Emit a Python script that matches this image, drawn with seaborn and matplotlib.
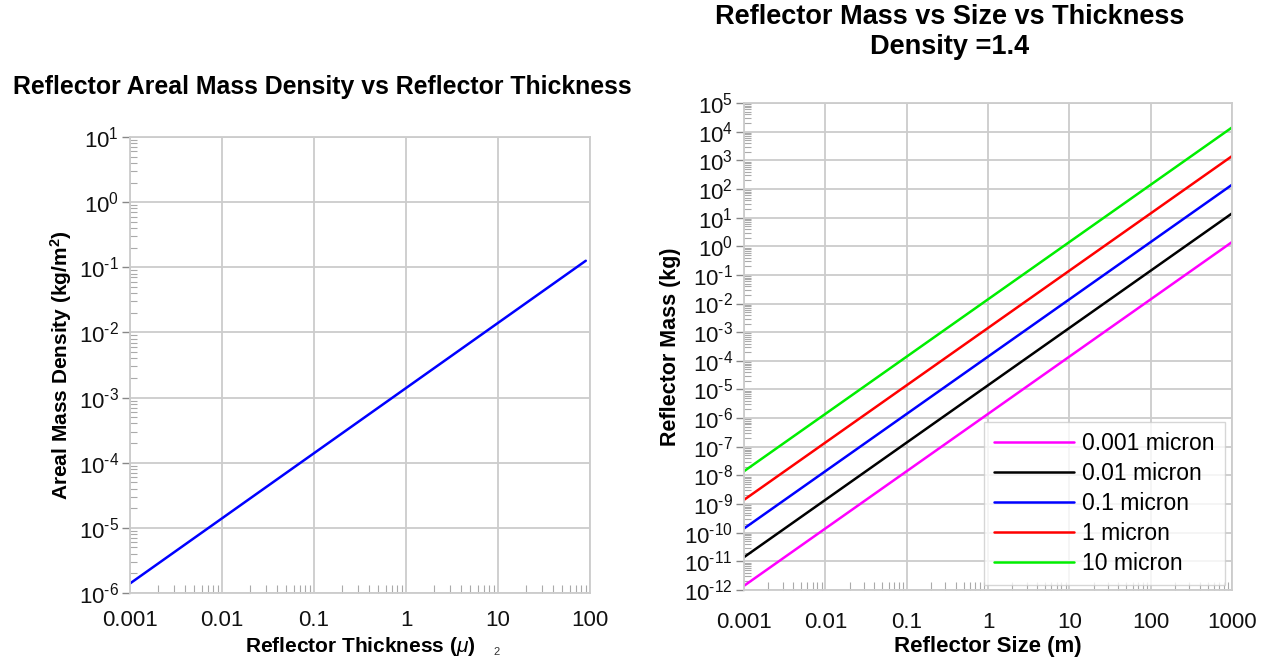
import numpy as np
import pandas as pd
import matplotlib
matplotlib.use("Agg")
import matplotlib.pyplot as plt
import matplotlib.ticker as mticker
import seaborn as sns

# ---- data ----
thickness_um = [0.001, 90]                 # left chart x endpoints (micron)
areal_density = [1.4e-6, 0.126]            # kg/m^2

size_m = [0.001, 1000]                     # right chart x endpoints (m)
series_labels = ["0.001 micron", "0.01 micron", "0.1 micron", "1 micron", "10 micron"]
mass_at_min = [1.4e-12, 1.4e-11, 1.4e-10, 1.4e-9, 1.4e-8]
mass_at_max = [1.4, 14, 140, 1400, 14000]
series_colors = ["#ff00ff", "#000000", "#0000ff", "#ff0000", "#00ee00"]

x_tick_vals_left = [0.001, 0.01, 0.1, 1, 10, 100]
x_tick_labels_left = ["0.001", "0.01", "0.1", "1", "10", "100"]
x_tick_vals_right = [0.001, 0.01, 0.1, 1, 10, 100, 1000]
x_tick_labels_right = ["0.001", "0.01", "0.1", "1", "10", "100", "1000"]

sns.set_style("white")
plt.rcParams["font.family"] = ["Liberation Sans", "DejaVu Sans"]
plt.rcParams["mathtext.default"] = "regular"
plt.rcParams["mathtext.fontset"] = "custom"
plt.rcParams["mathtext.rm"] = "Liberation Sans"
plt.rcParams["mathtext.it"] = "Liberation Sans:italic"
plt.rcParams["mathtext.bf"] = "Liberation Sans:bold"
plt.rcParams["axes.unicode_minus"] = False
plt.rcParams["text.color"] = "black"
plt.rcParams["axes.labelcolor"] = "black"
plt.rcParams["xtick.color"] = "#888888"
plt.rcParams["ytick.color"] = "#888888"
plt.rcParams["xtick.labelcolor"] = "#111111"
plt.rcParams["ytick.labelcolor"] = "#111111"

fig = plt.figure(figsize=(12.64, 6.59), dpi=100)
axL = fig.add_axes([130/1264, 1-593/659, 460/1264, 456/659])
axR = fig.add_axes([744/1264, 1-590/659, 488/1264, 487/659])

grid_c = "#cccccc"
tick_fs = 16


def pow_fmt(v, pos):
    e = int(round(np.log10(v)))
    if e < 0:
        return r"$10^{\text{-}%d}$" % (-e)
    return r"$10^{%d}$" % e


def style_axis(ax, xpad):
    ax.set_xscale("log")
    ax.set_yscale("log")
    ax.grid(True, which="major", color=grid_c, lw=1.3)
    ax.set_axisbelow(True)
    for s in ax.spines.values():
        s.set_color(grid_c)
        s.set_linewidth(1.3)
    ax.yaxis.set_major_locator(mticker.LogLocator(base=10, numticks=30))
    ax.yaxis.set_major_formatter(mticker.FuncFormatter(pow_fmt))
    ax.yaxis.set_minor_locator(mticker.LogLocator(base=10, subs=np.arange(2, 10), numticks=30))
    ax.xaxis.set_minor_locator(mticker.LogLocator(base=10, subs=np.arange(2, 10), numticks=30))
    ax.tick_params(axis="y", which="major", left=True, direction="out", length=6,
                   width=1.0, labelsize=tick_fs, pad=2)
    ax.tick_params(axis="y", which="minor", left=True, direction="in", length=5,
                   width=0.8, color="#aaaaaa")
    ax.tick_params(axis="x", which="major", bottom=True, direction="in", length=0,
                   labelsize=tick_fs, pad=xpad)
    ax.tick_params(axis="x", which="minor", bottom=True, direction="in", length=6,
                   width=0.8, color="#aaaaaa")

# ---- left chart ----
dfL = pd.DataFrame({"t": thickness_um, "d": areal_density})
sns.lineplot(data=dfL, x="t", y="d", ax=axL, color="#0000ff", lw=1.8)
style_axis(axL, 12)
axL.set_xlim(0.001, 100)
axL.set_ylim(1e-6, 10)
axL.set_xticks(x_tick_vals_left)
axL.set_xticklabels(x_tick_labels_left)
axL.set_xlabel(r"Reflector Thickness ($\mathit{\mu}$)", fontsize=15, fontweight="bold", labelpad=3)
axL.set_ylabel(r"Areal Mass Density (kg/m$^{2}$)", fontsize=15, fontweight="bold", labelpad=3)
fig.text(322/1264, 1-87/659, "Reflector Areal Mass Density vs Reflector Thickness",
         fontsize=17.9, fontweight="bold", ha="center", va="center")

# ---- right chart ----
rows = []
for lab, a, b in zip(series_labels, mass_at_min, mass_at_max):
    rows.append({"size": size_m[0], "mass": a, "series": lab})
    rows.append({"size": size_m[1], "mass": b, "series": lab})
dfR = pd.DataFrame(rows)
sns.lineplot(data=dfR, x="size", y="mass", hue="series", hue_order=series_labels,
             palette=series_colors, ax=axR, lw=1.8)
style_axis(axR, 16)
axR.set_xlim(0.001, 1000)
axR.set_ylim(1e-12, 1e5)
axR.set_xticks(x_tick_vals_right)
axR.set_xticklabels(x_tick_labels_right)
axR.set_xlabel("Reflector Size (m)", fontsize=16, fontweight="bold", labelpad=2)
axR.set_ylabel("Reflector Mass (kg)", fontsize=15.5, fontweight="bold", labelpad=2)
fig.text(950/1264, 1-32/659, "Reflector Mass vs Size vs Thickness\nDensity =1.4",
         fontsize=19.5, fontweight="bold", ha="center", va="center", linespacing=1.2)
leg = axR.legend(loc="lower right", fontsize=16.5, frameon=True, fancybox=False,
                 handlelength=3.5, handletextpad=0.35, borderpad=0.45, labelspacing=0.3,
                 borderaxespad=0, bbox_to_anchor=((1225-744)/488, 5/487))
leg.get_frame().set_edgecolor("#cccccc")
leg.get_frame().set_linewidth(1.0)
for l in leg.get_lines():
    l.set_linewidth(1.8)

fig.text(497/1264, 1-652/659, "2", fontsize=8, color="#333333", ha="center", va="center")

fig.savefig("out.png", dpi=100)
